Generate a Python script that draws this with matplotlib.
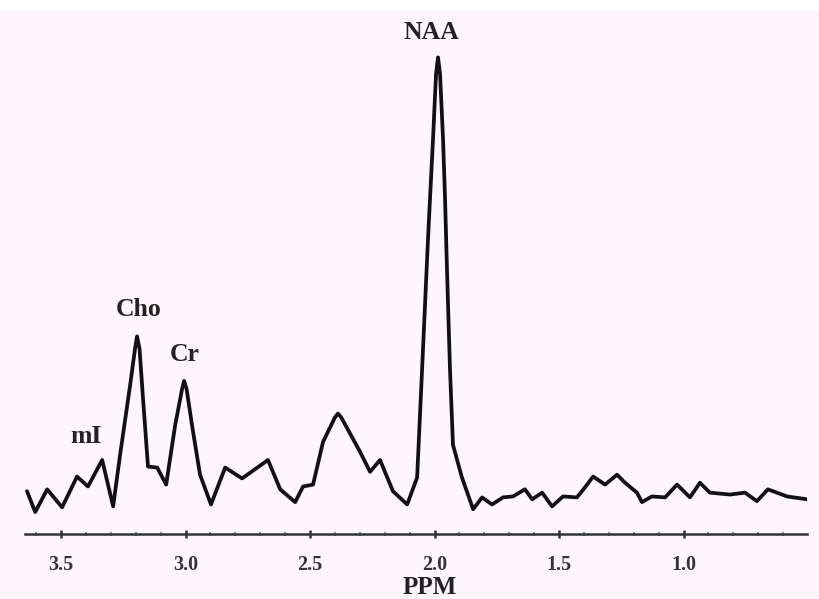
#!/usr/bin/env python3

import matplotlib
matplotlib.use('Agg')
import matplotlib.pyplot as plt
from matplotlib.patches import Rectangle

# spectre (ppm, intensite en unites arbitraires, NAA = 100)
ppm = [3.637, 3.604, 3.556, 3.496, 3.436, 3.392, 3.335, 3.291, 3.263, 3.223,
       3.203, 3.195, 3.185, 3.171, 3.151, 3.114, 3.078, 3.042, 3.014, 3.006,
       2.996, 2.974, 2.942, 2.898, 2.841, 2.773, 2.669, 2.620, 2.560, 2.528,
       2.488, 2.448, 2.400, 2.388, 2.375, 2.299, 2.259, 2.219, 2.167, 2.110,
       2.070, 2.050, 2.026, 2.018, 2.006, 1.994, 1.986, 1.978, 1.966, 1.958,
       1.950, 1.938, 1.926, 1.890, 1.845, 1.809, 1.769, 1.725, 1.685, 1.637,
       1.608, 1.568, 1.528, 1.484, 1.428, 1.396, 1.363, 1.315, 1.267, 1.235,
       1.187, 1.167, 1.127, 1.074, 1.026, 0.974, 0.934, 0.894, 0.813, 0.753,
       0.705, 0.661, 0.584, 0.504]
intensite = [8.4, 4.0, 8.8, 5.0, 11.5, 9.4, 15.0, 5.2, 16.1, 30.7,
             38.5, 41.1, 38.5, 28.0, 13.6, 13.4, 9.8, 22.3, 30.0, 31.7,
             30.0, 22.3, 11.9, 5.6, 13.4, 11.1, 15.0, 8.8, 6.1, 9.4,
             9.8, 18.8, 24.0, 24.8, 24.0, 16.7, 12.5, 15.0, 8.4, 5.6,
             11.3, 34.2, 62.0, 70.4, 82.9, 96.5, 100.0, 96.5, 82.9, 70.4,
             55.1, 34.2, 18.2, 11.3, 4.6, 7.1, 5.6, 7.1, 7.3, 8.8,
             6.7, 8.1, 5.2, 7.3, 7.1, 9.2, 11.5, 9.8, 11.9, 10.2,
             8.1, 6.1, 7.3, 7.1, 9.8, 7.1, 10.2, 8.1, 7.7, 8.1,
             6.3, 8.8, 7.3, 6.7]

# metabolites : nom, ppm, intensite de la ligne de base du texte
metabolites = ['NAA', 'Cho', 'Cr', 'mI']
pos_ppm = [2.012, 3.187, 3.002, 3.400]
pos_int = [103.8, 45.3, 35.9, 18.6]

ticks = [3.5, 3.0, 2.5, 2.0, 1.5, 1.0]
tick_labels = ['3.5', '3.0', '2.5', '2.0', '1.5', '1.0']

fond = '#fdf7fd'
serif = ['Liberation Serif', 'DejaVu Serif']

fig = plt.figure(figsize=(8.19, 5.99), dpi=100, facecolor=fond)
fig.patches.append(Rectangle((0, 1 - 10 / 599), 1, 10 / 599, transform=fig.transFigure,
                             facecolor='white', edgecolor='none', zorder=-1))

ax = fig.add_axes([25 / 819, 65 / 599, 782 / 819, 514 / 599])
ax.set_facecolor(fond)
ax.plot(ppm, intensite, color='#111111', lw=2.7, solid_joinstyle='round', solid_capstyle='round')

for nom, x, y in zip(metabolites, pos_ppm, pos_int):
    ax.text(x, y, nom, ha='center', va='baseline', fontsize=18.5, fontweight='bold',
            family=serif, color='#222222')

ax.set_xlim(3.645, 0.504)
ax.set_ylim(-0.63, 107.9)

for s in ['top', 'left', 'right']:
    ax.spines[s].set_visible(False)
ax.spines['bottom'].set_color('#333333')
ax.spines['bottom'].set_linewidth(1.8)
ax.set_yticks([])

ax.set_xticks(ticks)
ax.set_xticklabels(tick_labels, fontsize=14.5, fontweight='bold', family=serif, color='#333333')
ax.set_xticks([t / 10 for t in range(6, 37)], minor=True)
ax.tick_params(axis='x', which='major', direction='inout', length=6, width=1.8,
               color='#333333', pad=12)
ax.tick_params(axis='x', which='minor', direction='inout', length=3, width=1.2,
               color='#777777')
ax.set_xlabel('PPM', fontsize=18, fontweight='bold', family=serif, color='#222222')
ax.xaxis.label.set_verticalalignment('top')
ax.xaxis.set_label_coords(405 / 782, -42 / 514)

fig.savefig('out.png', dpi=100, facecolor=fond)
